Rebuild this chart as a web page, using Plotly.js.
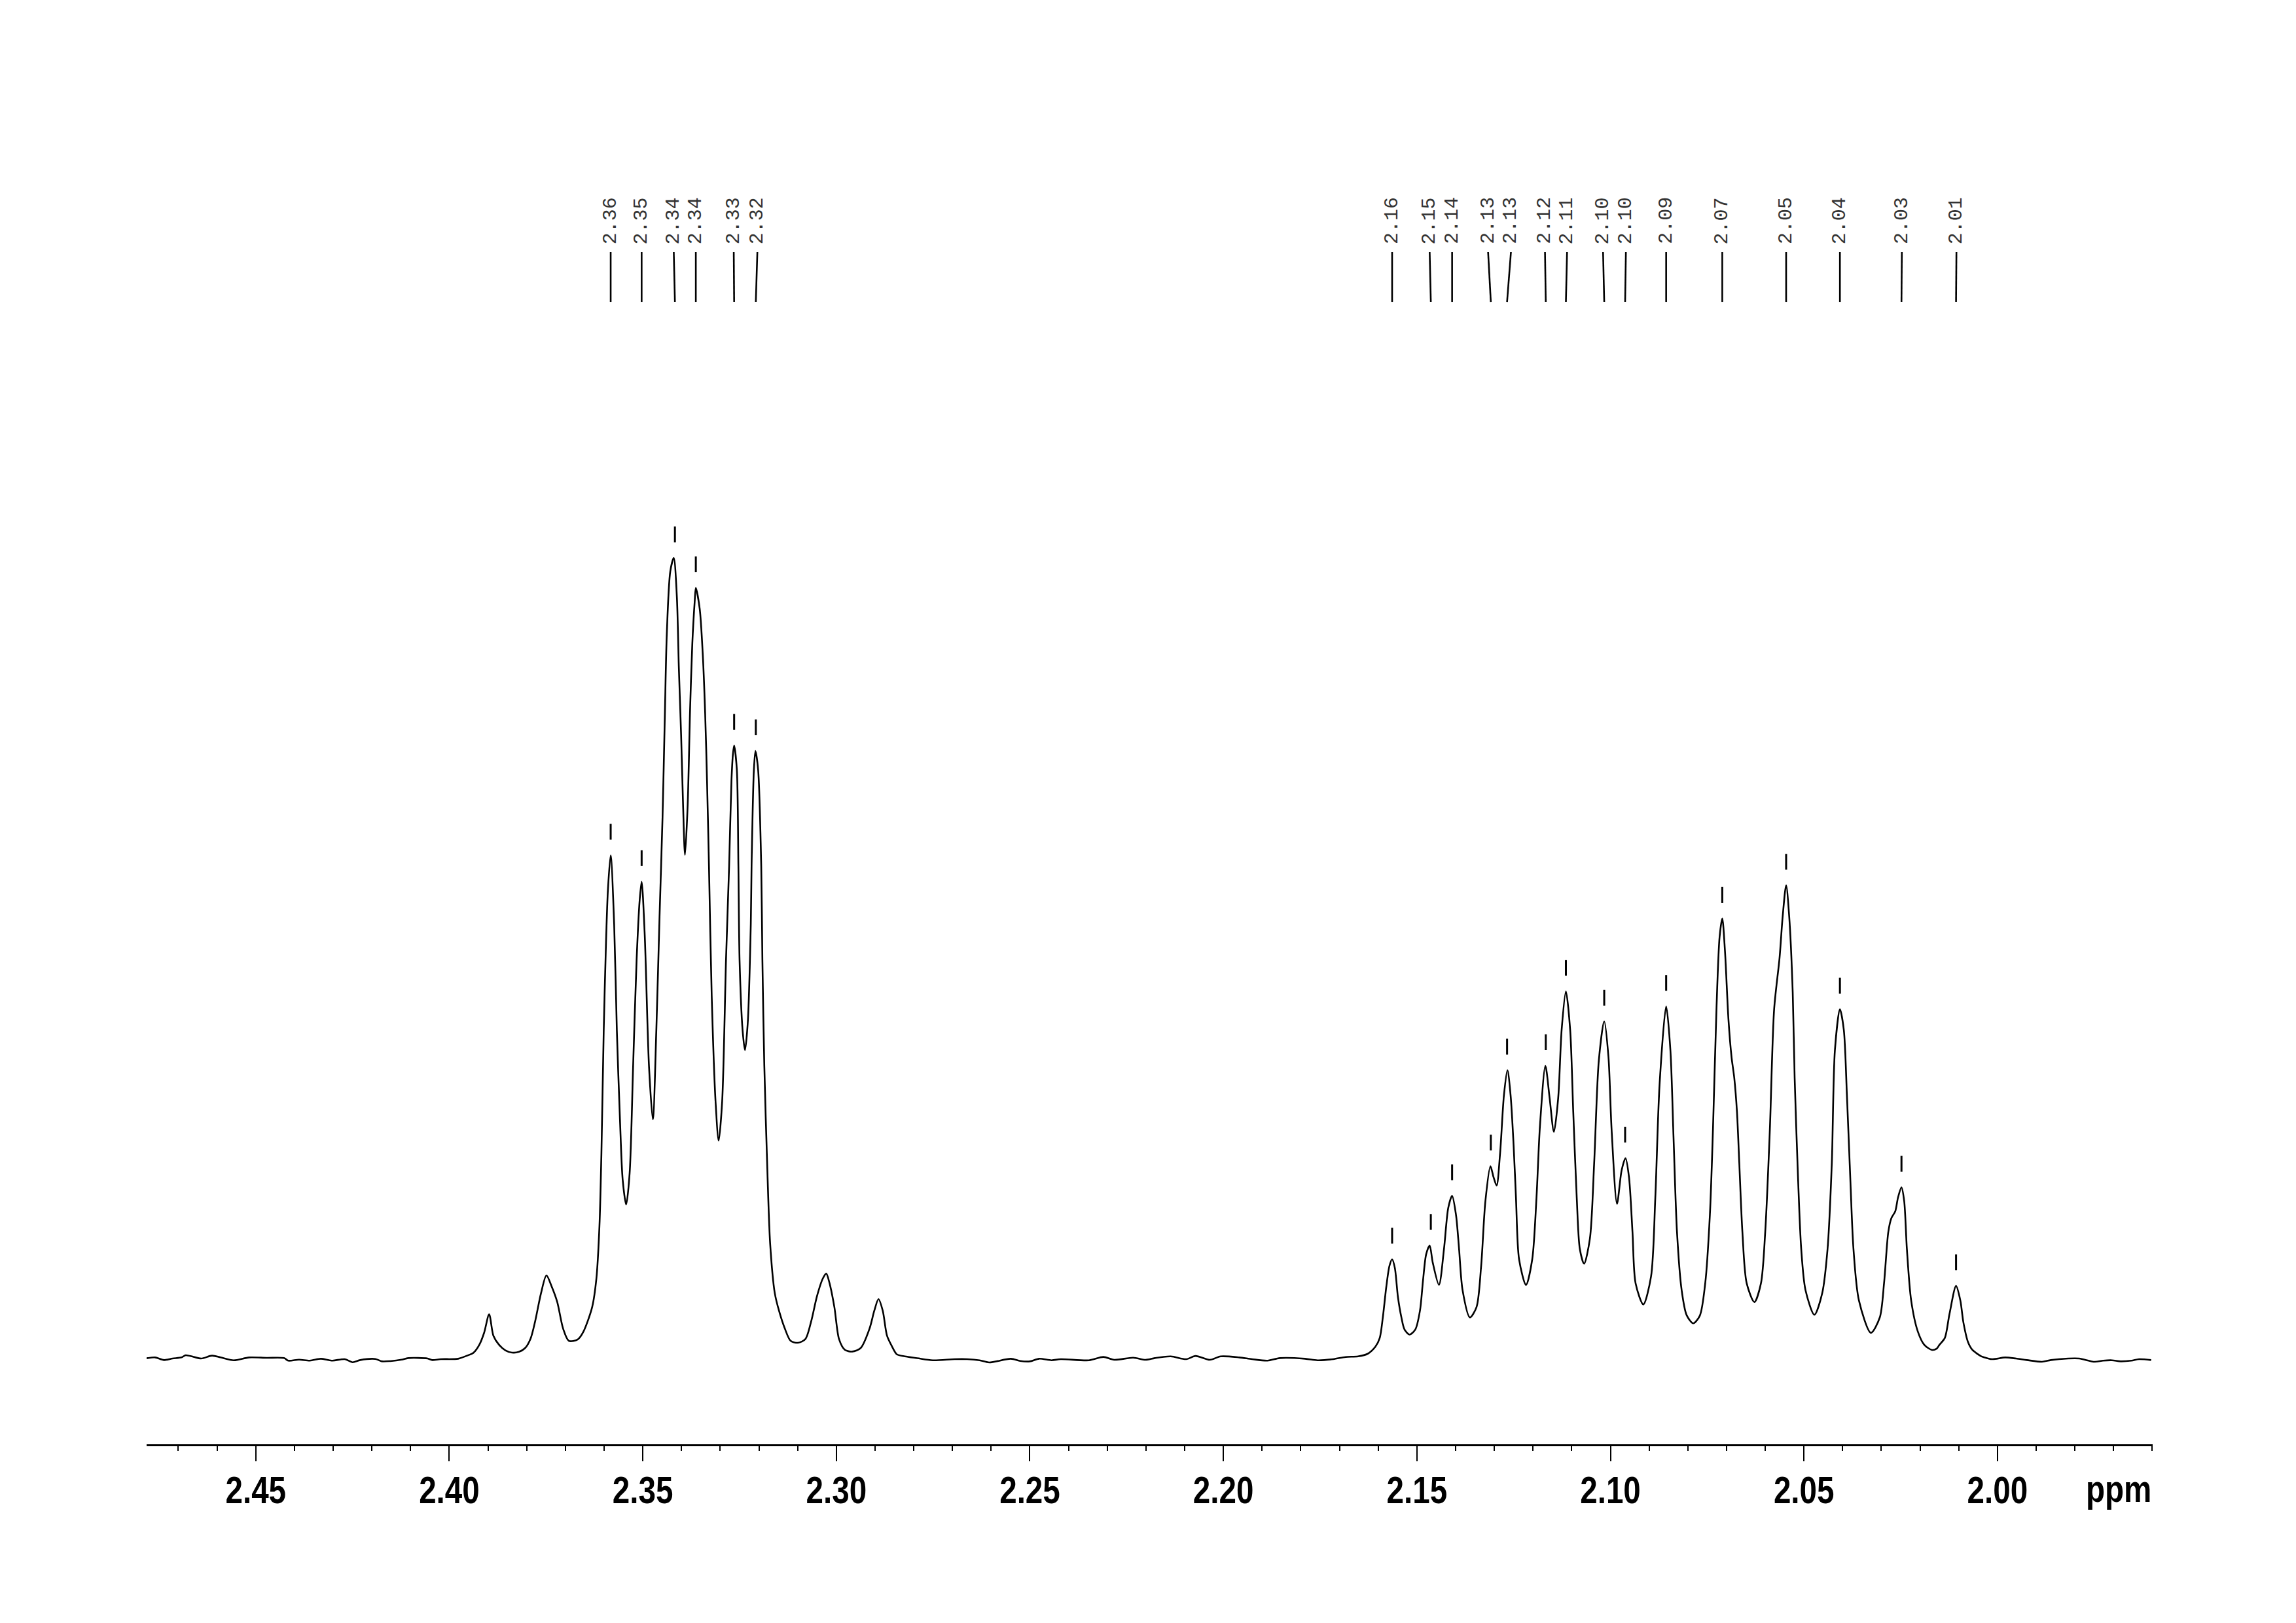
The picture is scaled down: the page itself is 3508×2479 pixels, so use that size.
<!DOCTYPE html>
<html>
<head>
<meta charset="utf-8">
<script src="https://cdn.plot.ly/plotly-3.0.1.min.js"></script>
<style>html,body{margin:0;padding:0;background:#fff;}#chart{width:3508px;height:2479px;}</style>
</head>
<body>
<div id="chart"></div>
<script>
// ---- Spectrum trace (ppm, intensity above baseline) ----
var spectrumPpm = [
2.4782,2.4779,2.4760,2.4737,2.4715,2.4692,2.4681,2.4661,2.4641,2.4613,2.4591,2.4557,2.4517,2.4472,2.4427,2.4416,2.4388,2.4360,2.4332,2.4304,2.4270,2.4250,2.4230,2.4191,2.4174,2.4152,2.4123,2.4106,2.4056,2.4044,2.4022,2.3977,2.3954,
2.3937,2.3922,2.3910,2.3897,2.3886,2.3872,2.3855,2.3838,2.3820,2.3804,2.3790,2.3778,2.3763,2.3749,2.3736,2.3721,2.3706,2.3691,2.3668,2.3654,2.3631,2.3620,2.3612,2.3607,2.3601,2.3595,2.3590,2.3583,
2.3574,2.3567,2.3559,2.3552,2.3543,2.3534,2.3525,2.3516,2.3508,2.3503,2.3495,2.3484,2.3474,2.3465,2.3457,2.3449,2.3443,2.3438,2.3429,2.3420,2.3412,2.3407,2.3401,2.3396,2.3391,2.3384,2.3378,2.3372,2.3366,2.3363,
2.3353,2.3345,2.3339,2.3334,2.3329,2.3322,2.3312,2.3304,2.3295,2.3285,2.3277,2.3271,2.3267,2.3264,2.3257,2.3253,2.3250,2.3242,2.3236,2.3229,2.3221,2.3219,2.3213,2.3209,2.3202,2.3194,2.3191,2.3186,2.3178,2.3171,
2.3159,2.3148,2.3133,2.3118,2.3099,2.3080,2.3065,2.3050,2.3035,2.3026,2.3018,2.3005,2.2993,2.2978,2.2959,2.2937,2.2914,2.2902,2.2891,2.2880,2.2869,2.2856,2.2844,2.2823,2.2791,
2.2751,2.2694,2.2662,2.2630,2.2605,2.2549,2.2525,2.2500,2.2476,2.2444,2.2420,2.2347,2.2310,2.2282,2.2233,2.2201,2.2177,2.2136,2.2096,2.2072,2.2035,2.2007,2.1959,2.1926,2.1886,2.1854,2.1789,2.1757,2.1716,2.1684,2.1652,2.1627,2.1607,
2.1596,2.1588,2.1579,2.1571,2.1564,2.1557,2.1549,2.1540,2.1532,2.1519,2.1504,2.1492,2.1484,2.1476,2.1467,2.1459,2.1443,2.1430,2.1419,2.1409,2.1399,2.1391,2.1382,2.1363,2.1346,2.1334,2.1323,2.1310,2.1302,2.1294,
2.1285,2.1275,2.1266,2.1258,2.1250,2.1244,2.1236,2.1218,2.1202,2.1191,2.1182,2.1168,2.1157,2.1146,2.1135,2.1126,2.1115,2.1104,2.1096,2.1087,2.1079,2.1068,2.1053,2.1042,2.1030,2.1016,2.1005,2.0997,2.0983,2.0971,
2.0961,2.0952,2.0943,2.0935,2.0915,2.0895,2.0884,2.0873,2.0856,2.0845,2.0837,2.0828,2.0816,2.0803,2.0786,2.0769,2.0755,2.0743,2.0735,2.0726,2.0718,2.0711,2.0704,2.0695,2.0687,2.0680,2.0673,2.0667,2.0659,2.0648,
2.0628,2.0611,2.0600,2.0588,2.0577,2.0563,2.0555,2.0546,2.0538,2.0529,2.0524,2.0515,2.0507,2.0496,2.0473,2.0453,2.0439,2.0428,2.0420,2.0407,2.0397,2.0389,2.0380,2.0372,2.0358,2.0327,2.0304,2.0293,2.0282,2.0274,
2.0264,2.0257,2.0248,2.0241,2.0234,2.0223,2.0206,2.0189,2.0169,2.0157,2.0150,2.0136,2.0124,2.0107,2.0096,2.0088,2.0076,2.0065,2.0042,2.0037,2.0014,
1.9980,1.9952,1.9924,1.9885,1.9862,1.9817,1.9789,1.9749,1.9727,1.9704,1.9682,1.9654,1.9634,1.9603
];
var spectrumIntensity = [
0.6,0.75,1.2,-0.6,0.45,1.2,2.7,1.6,0.45,2.4,1.2,-0.75,1.2,0.9,0.75,-1.0,-0.3,-1.0,0.3,-1.0,0,-2.1,-0.6,0.15,-1.5,-1.3,-0.3,0.75,0.45,-0.6,0,0.3,2.4,
4.5,10,18,30.6,16,10,6,4.5,5,7.6,14,26,45,57.2,50,39,21,12.5,13.5,18.5,35.4,54.8,91,139.5,224,285,321,344,
296.8,224,163.7,122.6,105.6,127,200,272.6,313.8,326,289.5,200,163.7,225,300,370,440,495,537.9,547,520.6,473.4,426.1,378.8,344.3,378.8,441.8,489,517,526.6,
512.4,480.9,441.8,394.5,336.5,248.4,175.8,149.2,175.8,272.6,336.5,394.5,413.5,419,402.4,336.5,272.6,224,211,229,296.8,336.5,402.4,415.3,402.4,336.5,272.6,200,127.4,79,
45.1,33,20.9,12.5,11.2,13.7,25.8,43,55,58.4,52.4,35.5,13.7,6.4,5.2,7.6,21,33,41,33,16,8.6,3.4,1.9,0.7,
-0.75,0,0,-0.75,-2.2,0.3,-1.2,-1.5,0.3,-0.75,0,-0.75,1.5,-0.45,1.0,-0.45,0.75,1.9,0,2.2,-0.45,1.9,1.2,0,-1.0,0.75,0.3,-0.75,0,1.5,1.9,3.7,8.6,
14.5,28.5,49.5,63.6,68.2,62.4,42.5,28.5,20.3,16.8,20.3,33.2,54.2,71.7,77.6,65.9,50.7,75.2,103.3,111.5,98.6,75.2,47.2,28.5,35.5,63.6,108,131.8,124.3,118.5,
140.7,180.5,197.3,180.5,145.4,110.3,68.2,50.7,68.2,110.3,159.4,200.3,178.1,155.2,178.1,224.9,251.1,224.9,168.8,110.3,75.2,65.2,82.3,133.7,203.8,230.7,206.2,157.1,106.1,129.0,
137.2,124.3,86.9,51.9,37.4,56.5,110.3,187.5,240.8,210.9,152,87,47.2,30,24.5,29.7,51.9,98.6,157.1,238.9,288,300.9,278.6,231.9,206.2,192.1,168.8,133.7,86.9,51.9,
39.0,51.9,86.9,157.1,238.9,274,302,323.5,302,250.6,192.1,122,75.2,47.2,30.3,44.8,75.2,133.7,210.9,238.9,224.9,180.5,122,75.2,40.2,18,28.5,51.9,86.9,96.3,
101,110.3,117.3,108,75.2,40.2,19.1,9.8,6.3,7.2,9.8,14.5,30.8,50,40.2,25.1,11.6,6.4,2.0,1.5,0.0,
1.2,0.45,-0.6,-1.8,-0.6,0.45,0.45,-1.8,-1.0,-0.75,-1.5,-1.0,0,-0.6
];

// ---- Peak picking: peak position, peak height, label position, label text ----
var peakPpm = [2.3583,2.3503,2.3417,2.3363,2.3264,2.3208,
               2.1564,2.1464,2.1409,2.1309,2.1267,2.1167,2.1115,2.1016,2.0962,2.0856,2.0711,2.0546,2.0407,2.0248,2.0107];
var peakHeight = [344,326,547,526.6,419,415.3,
                  68.2,77.6,111.5,131.8,197.3,200.3,251.1,230.7,137.2,240.8,300.9,323.5,238.9,117.3,50];
var labelPpm = [2.3583,2.3503,2.3420,2.3363,2.3265,2.3204,
                2.1564,2.1467,2.1409,2.1316,2.1257,2.1169,2.1112,2.1019,2.0960,2.0856,2.0711,2.0546,2.0407,2.0247,2.0106];
var labelText = ["2.36","2.35","2.34","2.34","2.33","2.32",
                 "2.16","2.15","2.14","2.13","2.13","2.12","2.11","2.10","2.10","2.09","2.07","2.05","2.04","2.03","2.01"];

// ---- Axis ----
var xRange = [2.4782, 1.9599];
var majorStep = 0.05;
var minorStep = 0.01;
var axisUnit = "ppm";

// ---- style / placement constants ----
var yRange = [-58.1, 838.6];
var lineTopY = 755.9, lineBottomY = 721.9, labelCenterY = 777.3;
var tickGap = 10.7, tickLen = 10.8;
var narrow = 0.82;   // horizontal compression of the bold axis font (narrow face look)
var axisFont = {family: 'Liberation Sans, Arial, sans-serif', size: 58, weight: 'bold', color: '#000'};

var connX = [], connY = [], markX = [], markY = [];
for (var i = 0; i < peakPpm.length; i++) {
  connX.push(labelPpm[i], peakPpm[i], null);
  connY.push(lineTopY, lineBottomY, null);
  markX.push(peakPpm[i], peakPpm[i], null);
  markY.push(peakHeight[i] + tickGap, peakHeight[i] + tickGap + tickLen, null);
}

var traces = [
  {x: spectrumPpm, y: spectrumIntensity, type: 'scatter', mode: 'lines',
   line: {color: '#000', width: 2.6, shape: 'spline', smoothing: 0.8}, hoverinfo: 'skip'},
  {x: connX, y: connY, type: 'scatter', mode: 'lines',
   line: {color: '#000', width: 2.6}, hoverinfo: 'skip', cliponaxis: false},
  {x: markX, y: markY, type: 'scatter', mode: 'lines',
   line: {color: '#000', width: 3}, hoverinfo: 'skip', cliponaxis: false}
];

var annotations = labelPpm.map(function(p, i) {
  return {x: p, y: labelCenterY, xref: 'x', yref: 'y', text: labelText[i], textangle: -90,
          showarrow: false, xanchor: 'center', yanchor: 'middle',
          font: {family: 'Liberation Mono, DejaVu Sans Mono, monospace', size: 30, color: '#333'}};
});
annotations.push({x: 1, xref: 'paper', y: -0.0334, yref: 'paper', text: axisUnit, showarrow: false,
  xanchor: 'right', yanchor: 'middle', xshift: 11, font: axisFont});

var layout = {
  width: 3508, height: 2479,
  paper_bgcolor: '#fff', plot_bgcolor: '#fff',
  margin: {l: 224, r: 219, t: 200, b: 273, pad: 0},
  showlegend: false,
  xaxis: {
    range: xRange, autorange: false,
    showgrid: false, zeroline: false,
    showline: true, linecolor: '#000', linewidth: 3,
    ticks: 'outside', ticklen: 23, tickwidth: 2, tickcolor: '#000',
    tick0: 0, dtick: majorStep, tickformat: '.2f',
    tickfont: axisFont,
    ticklabelstandoff: -6,
    minor: {tick0: 0, dtick: minorStep, ticks: 'outside', ticklen: 7, tickwidth: 2, tickcolor: '#000', showgrid: false}
  },
  yaxis: {range: yRange, autorange: false, visible: false, showgrid: false, zeroline: false},
  annotations: annotations
};

var gd = document.getElementById('chart');
Plotly.newPlot(gd, traces, layout, {staticPlot: true, displayModeBar: false}).then(function() {
  // give the bold axis text the condensed look of the original
  var nodes = gd.querySelectorAll('.xtick text, .annotation-text');
  nodes.forEach(function(t) {
    if (t.closest('.xtick') || t.textContent === axisUnit) {
      var w = t.getComputedTextLength();
      t.setAttribute('textLength', (w * narrow).toFixed(1));
      t.setAttribute('lengthAdjust', 'spacingAndGlyphs');
    }
  });
});
</script>
</body>
</html>
